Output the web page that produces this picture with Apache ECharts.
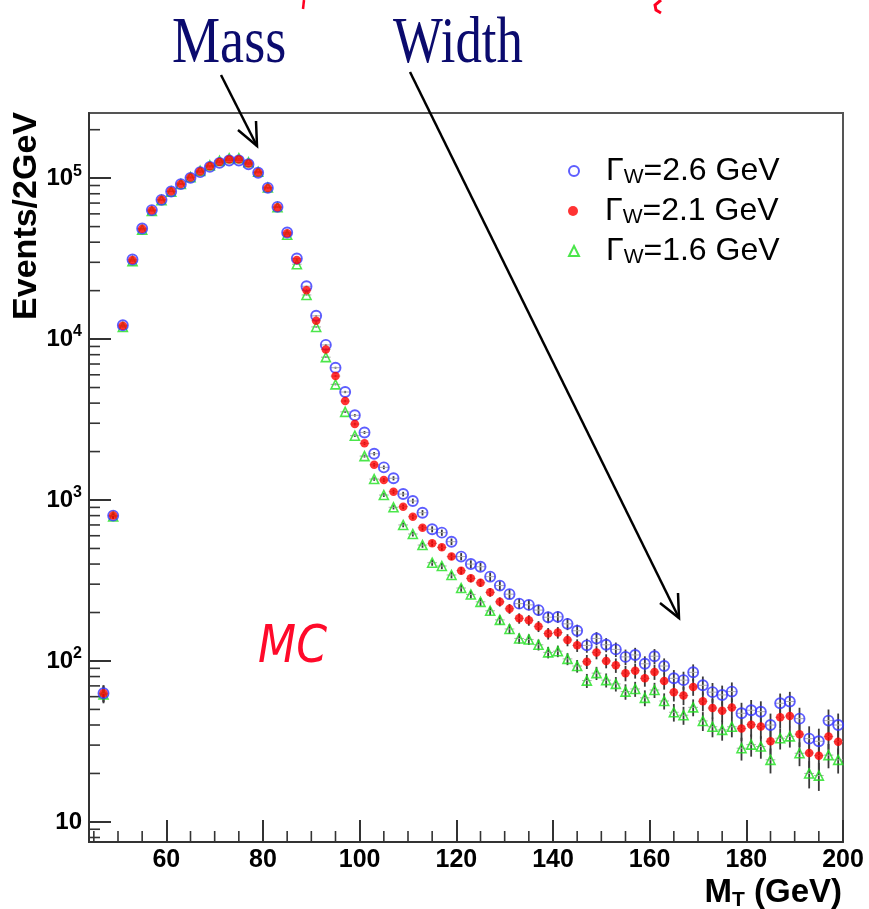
<!DOCTYPE html>
<html><head><meta charset="utf-8">
<script src="https://cdn.jsdelivr.net/npm/echarts@6/dist/echarts.min.js"></script>
<style>html,body{margin:0;padding:0;background:#fff}#c{width:869px;height:909px}</style>
</head><body><div id="c"></div>
<script>
// ---- data ----
const binCenters = [47,49,51,53,55,57,59,61,63,65,67,69,71,73,75,77,79,81,83,85,87,89,91,93,95,97,99,101,103,105,107,109,111,113,115,117,119,121,123,125,127,129,131,133,135,137,139,141,143,145,147,149,151,153,155,157,159,161,163,165,167,169,171,173,175,177,179,181,183,185,187,189,191,193,195,197,199];
const width26 = [63,800,12200,31200,48700,63300,73300,82700,91800,100400,109000,117500,124500,128800,128800,122000,108000,87000,66300,46000,31700,21300,13950,9200,6640,4690,3360,2630,1940,1596,1365,1089,986,834,658,627,551,445,400,385,334,294,260,227,223,207,187,188,170,154,125,138,126,118,106,109,96,107,93,78,76,85,70.6,64,61.5,64.5,47.3,49.4,48.4,40,54.6,56,43.8,32.9,31.7,42.6,40];
const width21 = [63,800,12100,31000,48500,63200,73500,83000,92000,101000,110000,118500,126000,130500,130500,123500,108500,87000,66000,45500,31000,20100,13000,8630,5890,4120,2965,2250,1655,1331,1127,909,787,673,538,508,445,364,326,306,267,233,211,184,179,164,148,150,135,125,99,113,100,94,84,87,78,85.5,75,64,61,69,56.2,51,49,51.3,38,40.2,39.1,31.7,44.7,45.5,35.1,26.8,25.8,33.9,31.5];
const width16 = [62,790,11900,30500,47800,62500,73000,82500,92000,101500,111000,120000,128000,133000,133000,125500,109500,87500,66000,44500,29200,18800,11900,7720,5230,3530,2510,1875,1350,1074,901,700,615,525,408,389,342,284,259,233,205,180,158,138,136,126,113,115,103,93,75.5,84,76,72,64.5,67,59,66,56.4,48,46,51.5,42.4,39,37.3,39,28.7,30.2,29.4,24.3,33.1,34,26.7,20,19.4,26,24.3];
const errFrac = [0.12,0.035,0.006,0.005,0.005,0.005,0.005,0.005,0.005,0.005,0.005,0.005,0.005,0.005,0.005,0.005,0.005,0.005,0.005,0.005,0.006,0.007,0.009,0.011,0.013,0.016,0.018,0.021,0.025,0.027,0.03,0.033,0.035,0.038,0.043,0.044,0.047,0.052,0.055,0.057,0.061,0.065,0.069,0.074,0.075,0.078,0.082,0.082,0.086,0.09,0.1,0.094,0.1,0.103,0.11,0.107,0.113,0.108,0.115,0.125,0.128,0.12,0.134,0.14,0.143,0.14,0.162,0.158,0.16,0.177,0.149,0.148,0.169,0.193,0.197,0.172,0.178];
const seriesNames = ['Γ_W=2.6 GeV', 'Γ_W=2.1 GeV', 'Γ_W=1.6 GeV'];
const xMinorTicks = [45,50,55,65,70,75,85,90,95,105,110,115,125,130,135,145,150,155,165,170,175,185,190,195];
const yMinorTicks = [8,9,20,30,40,50,60,70,80,90,200,300,400,500,600,700,800,900,2000,3000,4000,5000,6000,7000,8000,9000,20000,30000,40000,50000,60000,70000,80000,90000,200000];
const X_MIN = 44, X_MAX = 200, Y_MIN = 7.5, Y_MAX = 254000;

const chart = echarts.init(document.getElementById('c'));
const FONT = '"Liberation Sans", Arial, sans-serif';

function pts(vals){ return binCenters.map((x,i)=>[x, vals[i]]); }
function errData(vals){ return binCenters.map((x,i)=>[x, vals[i], errFrac[i]]); }
function errRender(params, api){
  const x = api.value(0), v = api.value(1), f = api.value(2);
  const top = api.coord([x, v*(1+f)]), bot = api.coord([x, v*(1-f)]);
  const l = api.coord([x-1, v]), r = api.coord([x+1, v]);
  return {type:'group', children:[
    {type:'line', shape:{x1:top[0],y1:top[1],x2:bot[0],y2:bot[1]}, style:{stroke:'#3a3a3a', lineWidth:1.8}},
    {type:'line', shape:{x1:l[0],y1:l[1],x2:r[0],y2:r[1]}, style:{stroke:'#aaa', lineWidth:1}}
  ]};
}
function legendFmt(name){ return '{g|Γ}{w|W}{t|' + name.split('_W')[1] + '}'; }
const legendRich = {
  g:{fontSize:32, fontFamily:FONT, color:'#000', lineHeight:34, padding:[0,0,0,22]},
  w:{fontSize:21, fontFamily:FONT, color:'#000', lineHeight:21, padding:[13,0,0,0]},
  t:{fontSize:32, fontFamily:FONT, color:'#000', lineHeight:34}
};
const legendTops = [154, 194, 234];

chart.setOption({
  animation:false,
  backgroundColor:'#fff',
  grid:{left:89, right:26, top:113, bottom:67, show:true, borderColor:'#555', borderWidth:2, outerBoundsMode:'none', containLabel:false},
  xAxis:{type:'value', min:X_MIN, max:X_MAX, splitNumber:8,
    axisLine:{lineStyle:{color:'#333', width:2}},
    axisTick:{inside:true, length:22, lineStyle:{color:'#333', width:2}},
    axisLabel:{showMinLabel:false, fontSize:25, fontWeight:'bold', fontFamily:FONT, color:'#000', margin:6},
    splitLine:{show:false}},
  yAxis:{type:'log', logBase:10, min:Y_MIN, max:Y_MAX,
    axisLine:{lineStyle:{color:'#333', width:2}},
    axisTick:{inside:true, length:22, lineStyle:{color:'#333', width:2}},
    axisLabel:{showMinLabel:false, showMaxLabel:false, margin:7,
      formatter:function(v){ const e=Math.round(Math.log10(v)); return e===1 ? '{b|10}' : '{b|10}{s|'+e+'}'; },
      rich:{b:{fontSize:24, fontWeight:'bold', fontFamily:FONT, color:'#000'},
            s:{fontSize:16, fontWeight:'bold', fontFamily:FONT, color:'#000', padding:[0,0,14,0]}}},
    splitLine:{show:false}},
  legend: seriesNames.map((n,i)=>({data:[n], orient:'vertical', left:568, top:legendTops[i], padding:0,
    itemWidth:10, itemHeight:10, formatter:legendFmt, selectedMode:false,
    textStyle:{fontSize:32, fontFamily:FONT, color:'#000', rich:legendRich}})),
  series:[
    {type:'custom', name:'xminor', data:xMinorTicks.map(v=>[v, Y_MIN]), silent:true, z:1,
     renderItem:(p,api)=>{const c=api.coord([api.value(0), api.value(1)]); return {type:'line', shape:{x1:c[0],y1:c[1],x2:c[0],y2:c[1]-11}, style:{stroke:'#333', lineWidth:1.6}};}},
    {type:'custom', name:'yminor', data:yMinorTicks.map(v=>[X_MIN, v]), silent:true, z:1,
     renderItem:(p,api)=>{const c=api.coord([api.value(0), api.value(1)]); return {type:'line', shape:{x1:c[0],y1:c[1],x2:c[0]+11,y2:c[1]}, style:{stroke:'#333', lineWidth:1.6}};}},
    {type:'custom', name:'err16', data:errData(width16), renderItem:errRender, silent:true, z:2},
    {type:'custom', name:'err26', data:errData(width26), renderItem:errRender, silent:true, z:2},
    {type:'custom', name:'err21', data:errData(width21), renderItem:errRender, silent:true, z:2},
    {type:'scatter', name:seriesNames[2], data:pts(width16), symbol:'triangle', symbolSize:9, z:3,
     itemStyle:{color:'rgba(255,255,255,0)', borderColor:'#1ee01e', borderWidth:1.6}},
    {type:'scatter', name:seriesNames[0], data:pts(width26), symbol:'circle', symbolSize:10, z:4,
     itemStyle:{color:'rgba(255,255,255,0)', borderColor:'#3535ff', borderWidth:1.9}},
    {type:'scatter', name:seriesNames[1], data:pts(width21), symbol:'circle', symbolSize:8.5, z:5,
     itemStyle:{color:'#ff0000', borderWidth:0}}
  ],
  graphic:[
    {type:'text', x:172, y:45, scaleX:0.82, style:{text:'Mass', font:'66px "Liberation Serif", "Times New Roman", serif', fill:'#0b0b6e', textAlign:'left', textVerticalAlign:'middle'}},
    {type:'text', x:393, y:45, scaleX:0.80, style:{text:'Width', font:'66px "Liberation Serif", "Times New Roman", serif', fill:'#0b0b6e', textAlign:'left', textVerticalAlign:'middle'}},
    {type:'polyline', shape:{points:[[221,75],[257,146]]}, style:{stroke:'#000', lineWidth:2.5, fill:null}},
    {type:'polyline', shape:{points:[[238,130],[257,146],[256,121]]}, style:{stroke:'#000', lineWidth:2.5, fill:null}},
    {type:'polyline', shape:{points:[[410,72],[679,618]]}, style:{stroke:'#000', lineWidth:2.5, fill:null}},
    {type:'polyline', shape:{points:[[660,603],[679,618],[678,593]]}, style:{stroke:'#000', lineWidth:2.5, fill:null}},
    {type:'polyline', shape:{points:[[304,0],[303,9]]}, style:{stroke:'#ff0020', lineWidth:2.5, fill:null}},
    {type:'polyline', shape:{points:[[661,0],[655,5],[656,10],[661,13]]}, style:{stroke:'#ff0020', lineWidth:3, fill:null}},
    {type:'text', x:258, y:648, scaleX:0.85, style:{text:'MC', font:'italic 52px "DejaVu Sans", sans-serif', fill:'#ff0a2a', textAlign:'left', textVerticalAlign:'middle'}},
    {type:'text', x:27, y:112, rotation:Math.PI/2, style:{text:'Events/2GeV', font:'bold 34px '+FONT, fill:'#000', textAlign:'right', textVerticalAlign:'middle'}},
    {type:'text', x:842, y:893, style:{text:'{m|M}{t|T}{m| (GeV)}', textAlign:'right', textVerticalAlign:'middle',
      rich:{m:{fontSize:33, fontWeight:'bold', fontFamily:FONT, fill:'#000', lineHeight:36},
            t:{fontSize:21, fontWeight:'bold', fontFamily:FONT, fill:'#000', lineHeight:21, padding:[15,0,0,0]}}}}
  ]
});
</script></body></html>
